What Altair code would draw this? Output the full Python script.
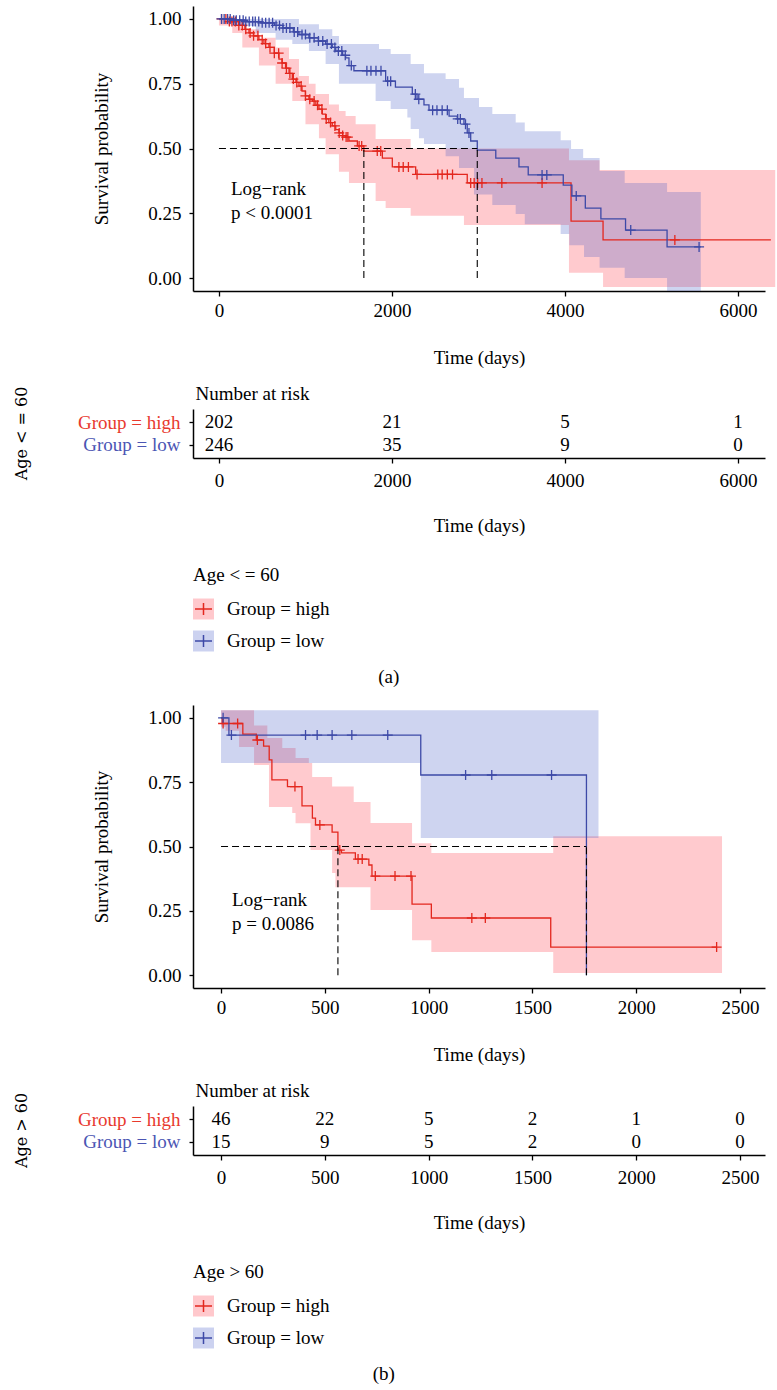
import altair as alt
import pandas as pd

FONT = "Liberation Serif"
SIDE_FONT = "DejaVu Serif"
FS = 19

RED = "#E3271E"
BLUE = "#3D49A7"
RED_FILL = "#FF3341"
BLUE_FILL = "#4358C6"
RED_TXT = "#E8392E"
BLUE_TXT = "#4B55B3"

GROUPS = ["high", "low"]
LABELS = ["Group = high", "Group = low"]

# ---------------- (a) Age <= 60 ----------------
A_HIGH_T = [0, 120, 230, 300, 347, 400, 462, 520, 578, 640, 694, 730, 770, 810, 848, 890, 925, 960,
            1000, 1040, 1080, 1120, 1156, 1195, 1233, 1270, 1310, 1350, 1387, 1430, 1464, 1503, 1600,
            1675, 1889, 2004, 2274, 2870, 4070, 4440, 6380]
A_HIGH_S = [1.0, 0.99, 0.975, 0.96, 0.946, 0.935, 0.92, 0.905, 0.89, 0.868, 0.845, 0.83, 0.81, 0.79,
            0.768, 0.755, 0.741, 0.722, 0.703, 0.69, 0.683, 0.667, 0.652, 0.633, 0.614, 0.6, 0.587,
            0.573, 0.56, 0.55, 0.544, 0.529, 0.51, 0.49, 0.463, 0.429, 0.40, 0.367, 0.22, 0.147, 0.147]
A_LOW_T = [0, 154, 300, 480, 640, 740, 860, 925, 1040, 1150, 1233, 1310, 1350, 1430, 1464, 1503, 1560,
           1927, 2040, 2235, 2290, 2370, 2428, 2660, 2755, 2832, 2870, 2910, 2986, 3200, 3468, 3575,
           3980, 4080, 4235, 4415, 4700, 5180, 5570]
A_LOW_S = [1.0, 0.995, 0.99, 0.985, 0.975, 0.965, 0.95, 0.94, 0.927, 0.915, 0.903, 0.89, 0.876, 0.86,
           0.85, 0.82, 0.80, 0.76, 0.737, 0.71, 0.69, 0.668, 0.648, 0.625, 0.614, 0.594, 0.56, 0.529,
           0.494, 0.463, 0.429, 0.398, 0.359, 0.317, 0.27, 0.228, 0.185, 0.12, 0.12]

A_HIGH_BAND_T = [0, 154, 270, 308, 462, 655, 810, 848, 925, 1000, 1040, 1117, 1156, 1233, 1272, 1387,
                 1464, 1503, 1580, 1811, 1927, 2216, 2832, 4046, 4400, 4440, 6430]
A_HIGH_BAND_LO = [0.975, 0.946, 0.89, 0.89, 0.82, 0.75, 0.75, 0.683, 0.683, 0.594, 0.594, 0.594, 0.54,
                  0.478, 0.478, 0.41, 0.41, 0.367, 0.367, 0.297, 0.27, 0.24, 0.205, 0.02, 0.02, -0.035,
                  -0.035]
A_HIGH_BAND_HI = [1.0, 0.99, 0.99, 0.96, 0.927, 0.89, 0.845, 0.845, 0.78, 0.78, 0.75, 0.71, 0.71, 0.71,
                  0.67, 0.645, 0.625, 0.625, 0.594, 0.537, 0.537, 0.50, 0.50, 0.455, 0.417, 0.417, 0.417]
A_LOW_BAND_T = [0, 154, 425, 655, 848, 925, 1040, 1156, 1233, 1310, 1387, 1811, 1850, 1985, 2178, 2216,
                2312, 2370, 2620, 2775, 2832, 2948, 3006, 3160, 3430, 3535, 3950, 4050, 4070, 4210, 4220,
                4400, 4690, 5180, 5570]
A_LOW_BAND_LO = [0.995, 0.973, 0.946, 0.92, 0.903, 0.903, 0.876, 0.876, 0.826, 0.826, 0.75, 0.683, 0.683,
                 0.652, 0.62, 0.575, 0.54, 0.517, 0.47, 0.425, 0.425, 0.322, 0.322, 0.282, 0.247, 0.208,
                 0.17, 0.127, 0.127, 0.127, 0.081, 0.04, 0.0, -0.05, -0.05]
A_LOW_BAND_HI = [1.0, 1.0, 1.0, 1.0, 1.0, 0.98, 0.98, 0.96, 0.96, 0.934, 0.903, 0.903, 0.884, 0.865,
                 0.865, 0.826, 0.826, 0.79, 0.768, 0.734, 0.695, 0.695, 0.66, 0.633, 0.60, 0.567, 0.532,
                 0.532, 0.498, 0.463, 0.463, 0.413, 0.367, 0.332, 0.332]

A_HIGH_CENSOR = [30, 80, 120, 150, 190, 230, 270, 310, 360, 400, 450, 500, 540, 590, 640, 690, 730, 780,
                 820, 860, 900, 950, 1000, 1050, 1100, 1140, 1190, 1240, 1290, 1340, 1390, 1430, 1470,
                 1490, 1620, 1650, 1830, 1870, 2080, 2130, 2190, 2290, 2530, 2580, 2640, 2700, 2910, 2950,
                 2990, 3040, 3270, 3735, 5270]
A_LOW_CENSOR = [30, 60, 100, 130, 170, 200, 240, 280, 310, 350, 390, 420, 460, 500, 540, 580, 620, 660,
                700, 740, 780, 820, 870, 910, 960, 1000, 1050, 1100, 1150, 1200, 1250, 1300, 1340, 1380,
                1420, 1460, 1530, 1710, 1757, 1815, 1873, 1950, 1985, 2270, 2310, 2470, 2520, 2580, 2640,
                2760, 2790, 2850, 2890, 3735, 3790, 4130, 4760, 5550]
A_MEDIAN = [1675, 2986]
A_RISK_T = [0, 2000, 4000, 6000]
A_RISK_HIGH = [202, 21, 5, 1]
A_RISK_LOW = [246, 35, 9, 0]

# ---------------- (b) Age > 60 ----------------
B_HIGH_T = [0, 6, 105, 170, 205, 232, 245, 320, 390, 440, 455, 535, 563, 580, 647, 712, 727, 920, 1013,
            1588, 2387]
B_HIGH_S = [1.0, 0.978, 0.937, 0.914, 0.89, 0.837, 0.759, 0.733, 0.658, 0.61, 0.584, 0.556, 0.486,
            0.475, 0.451, 0.428, 0.385, 0.276, 0.222, 0.109, 0.109]
B_LOW_T = [0, 38, 962, 1760]
B_LOW_S = [1.0, 0.933, 0.778, 0.0]

B_HIGH_BAND_T = [0, 22, 87, 159, 223, 231, 295, 343, 359, 423, 431, 439, 535, 551, 639, 720, 920, 1013,
                 1600, 2413]
B_HIGH_BAND_LO = [0.965, 0.95, 0.887, 0.817, 0.817, 0.654, 0.654, 0.63, 0.59, 0.59, 0.486, 0.486, 0.397,
                  0.342, 0.342, 0.253, 0.136, 0.09, 0.008, 0.008]
B_HIGH_BAND_HI = [1.03, 1.03, 1.03, 0.97, 0.922, 0.922, 0.883, 0.883, 0.844, 0.825, 0.825, 0.77, 0.733,
                  0.733, 0.673, 0.591, 0.513, 0.475, 0.54, 0.54]
B_LOW_BAND_T = [0, 962, 1818]
B_LOW_BAND_LO = [0.825, 0.533, 0.533]
B_LOW_BAND_HI = [1.03, 1.03, 1.03]

B_HIGH_CENSOR = [10, 80, 175, 356, 476, 572, 660, 680, 743, 838, 915, 1208, 1273, 2387]
B_LOW_CENSOR = [10, 50, 407, 463, 535, 630, 803, 1178, 1304, 1592]
B_MEDIAN = [563, 1760]
B_RISK_T = [0, 500, 1000, 1500, 2000, 2500]
B_RISK_HIGH = [46, 22, 5, 2, 1, 0]
B_RISK_LOW = [15, 9, 5, 2, 0, 0]

CROSS = "M-1,0H1M0,-1V1"
KEY_CROSS = "M-1,0H1M0,-0.7V0.7"

fill_scale = alt.Scale(domain=GROUPS, range=[RED_FILL, BLUE_FILL])
stroke_scale = alt.Scale(domain=GROUPS, range=[RED, BLUE])


def steps(t, s, group):
    return pd.DataFrame({"t": [float(v) for v in t], "s": s, "group": group})


def band(t, lo, hi, group):
    return pd.DataFrame({"t": [float(v) for v in t], "s": lo, "s2": hi, "group": group})


def censored(times, t, s, group):
    c = pd.DataFrame({"t": sorted(float(v) for v in times)})
    k = pd.DataFrame({"t": [float(v) for v in t], "s": s})
    out = pd.merge_asof(c, k, on="t")
    out["group"] = group
    return out


def km_chart(curves, bands, marks, medians, xdomain, xticks, height, note, note_t, note_s):
    x = alt.X("t:Q", scale=alt.Scale(domain=xdomain, nice=False, zero=False),
              axis=alt.Axis(values=xticks, format="d", title="Time (days)", tickSize=5,
                            labelPadding=5, titlePadding=28, labelFlush=False))
    y = alt.Y("s:Q", scale=alt.Scale(domain=[-0.05, 1.05], nice=False, zero=False),
              axis=alt.Axis(values=[0, 0.25, 0.5, 0.75, 1.0], format=".2f",
                            title="Survival probability", tickSize=4, labelPadding=8,
                            titlePadding=36))
    area = alt.Chart(bands).mark_area(interpolate="step-after", opacity=0.26).encode(
        x=x, y=y, y2="s2:Q",
        fill=alt.Fill("group:N", scale=fill_scale, legend=None),
        order=alt.Order("group:N"))
    line = alt.Chart(curves).mark_line(interpolate="step-after", strokeWidth=1.3).encode(
        x=x, y=y, stroke=alt.Stroke("group:N", scale=stroke_scale, legend=None))
    cens = alt.Chart(marks).mark_point(shape=CROSS, size=100, strokeWidth=1.3, filled=False,
                                       opacity=1).encode(
        x=x, y=y, stroke=alt.Stroke("group:N", scale=stroke_scale, legend=None))
    hline = pd.DataFrame({"t": [0.0], "t2": [float(max(medians))], "s": [0.5]})
    vline = pd.DataFrame({"t": [float(m) for m in medians], "s": [0.0] * len(medians),
                          "s2": [0.5] * len(medians)})
    dash = dict(color="black", strokeDash=[7, 4], strokeWidth=1.1)
    h = alt.Chart(hline).mark_rule(**dash).encode(x=x, x2="t2:Q", y=y)
    v = alt.Chart(vline).mark_rule(**dash).encode(x=x, y=y, y2="s2:Q")
    txt = alt.Chart(pd.DataFrame({"t": [note_t], "s": [note_s], "label": [note]})).mark_text(
        align="left", baseline="middle", font=FONT, fontSize=FS, lineBreak="\n",
        lineHeight=24, color="black").encode(x=x, y=y, text="label:N")
    return alt.layer(area, line, cens, h, v, txt).properties(width=572, height=height)


def risk_chart(times, high, low, xdomain, xticks, side_title):
    df = pd.DataFrame({"t": [float(v) for v in times] * 2,
                       "group": ["high"] * len(times) + ["low"] * len(times),
                       "n": list(high) + list(low)})
    x = alt.X("t:Q", scale=alt.Scale(domain=xdomain, nice=False, zero=False),
              axis=alt.Axis(values=xticks, format="d", title="Time (days)", tickSize=5,
                            labelPadding=8, titlePadding=26, labelFlush=False))
    # "Number at risk" heads the table from the y axis title slot, set level above the rows
    y = alt.Y("group:N", scale=alt.Scale(type="point", domain=GROUPS, padding=0.6),
              axis=alt.Axis(title="Number at risk", titleAngle=0, titleAlign="left",
                            titleBaseline="middle", titleX=2, titleY=-16,
                            labelExpr="'Group = ' + datum.value",
                            labelColor=alt.condition("datum.value == 'high'",
                                                     alt.value(RED_TXT), alt.value(BLUE_TXT)),
                            tickSize=4, labelPadding=9))
    return alt.Chart(df).mark_text(font=FONT, fontSize=FS, color="black").encode(
        x=x, y=y, text="n:Q").properties(
        width=572, height=49,
        title=alt.TitleParams(side_title, orient="left", anchor="middle", frame="group",
                              font=SIDE_FONT, fontSize=16, offset=47))


def key_chart(title):
    df = pd.DataFrame({"group": GROUPS, "label": LABELS})
    y = alt.Y("group:N", scale=alt.Scale(domain=GROUPS, paddingInner=0, paddingOuter=0), axis=None)
    keys = alt.Chart(df).mark_square(size=441, opacity=0.27).encode(
        x=alt.value(10.5), y=y, fill=alt.Fill("group:N", scale=fill_scale, legend=None))
    plus = alt.Chart(df).mark_point(shape=KEY_CROSS, size=289, strokeWidth=1.5, filled=False,
                                    opacity=1).encode(
        x=alt.value(10.5), y=y, stroke=alt.Stroke("group:N", scale=stroke_scale, legend=None))
    text = alt.Chart(df).mark_text(align="left", baseline="middle", font=FONT, fontSize=FS,
                                   color="black").encode(x=alt.value(34), y=y, text="label:N")
    return alt.layer(keys, plus, text).properties(
        width=200, height=64,
        title=alt.TitleParams(title, anchor="start", frame="group", offset=8))


def panel(km, risk, key, tag):
    top = alt.vconcat(km, risk, spacing=17)
    return alt.vconcat(top, key, spacing=31).properties(
        title=alt.TitleParams(tag, orient="bottom", anchor="middle", offset=11, dx=-6))


A_XDOM = [-300, 6312]
B_XDOM = [-135, 2620]

km_a = km_chart(
    pd.concat([steps(A_HIGH_T, A_HIGH_S, "high"), steps(A_LOW_T, A_LOW_S, "low")]),
    pd.concat([band(A_HIGH_BAND_T, A_HIGH_BAND_LO, A_HIGH_BAND_HI, "high"),
               band(A_LOW_BAND_T, A_LOW_BAND_LO, A_LOW_BAND_HI, "low")]),
    pd.concat([censored(A_HIGH_CENSOR, A_HIGH_T, A_HIGH_S, "high"),
               censored(A_LOW_CENSOR, A_LOW_T, A_LOW_S, "low")]),
    A_MEDIAN, A_XDOM, A_RISK_T, 285, "Log\u2212rank\np < 0.0001", 139.0, 0.344)
km_b = km_chart(
    pd.concat([steps(B_HIGH_T, B_HIGH_S, "high"), steps(B_LOW_T, B_LOW_S, "low")]),
    pd.concat([band(B_HIGH_BAND_T, B_HIGH_BAND_LO, B_HIGH_BAND_HI, "high"),
               band(B_LOW_BAND_T, B_LOW_BAND_LO, B_LOW_BAND_HI, "low")]),
    pd.concat([censored(B_HIGH_CENSOR, B_HIGH_T, B_HIGH_S, "high"),
               censored(B_LOW_CENSOR, B_LOW_T, B_LOW_S, "low")]),
    B_MEDIAN, B_XDOM, B_RISK_T, 283, "Log\u2212rank\np = 0.0086", 53.0, 0.292)

risk_a = risk_chart(A_RISK_T, A_RISK_HIGH, A_RISK_LOW, A_XDOM, A_RISK_T, "Age < = 60")
risk_b = risk_chart(B_RISK_T, B_RISK_HIGH, B_RISK_LOW, B_XDOM, B_RISK_T, "Age > 60")

chart = alt.vconcat(
    panel(km_a, risk_a, key_chart("Age < = 60"), "(a)"),
    panel(km_b, risk_b, key_chart("Age > 60"), "(b)"),
    spacing=18,
).properties(
    padding={"left": 14, "top": 6, "right": 0, "bottom": 0},
    background="white",
).configure_axis(
    labelFont=FONT, titleFont=FONT, labelFontSize=FS, titleFontSize=FS,
    labelColor="black", titleColor="black", domainColor="black", tickColor="black",
    domainWidth=1.5, tickWidth=1.3, grid=False, titleFontWeight="normal", labelOverlap=False,
).configure_view(stroke=None).configure_title(
    font=FONT, fontSize=FS, fontWeight="normal", color="black",
)

chart.save("out.html", embed_options={"renderer": "svg", "actions": False})
